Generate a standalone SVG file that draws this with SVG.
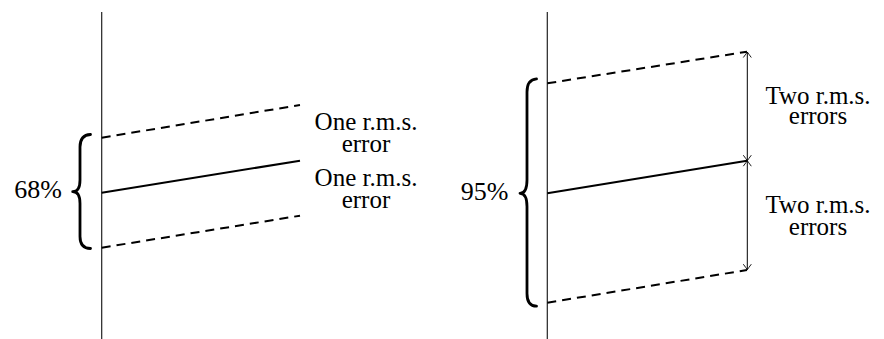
<svg xmlns="http://www.w3.org/2000/svg" width="884" height="339" viewBox="0 0 884 339">
<style>
  text { font-family: "Liberation Serif", "Times New Roman", serif; font-size: 26px; fill: #000; }
  .lbl { font-size: 25px; }
  .axis { stroke: #222; stroke-width: 1.2; fill: none; }
  .solid { stroke: #000; stroke-width: 2; fill: none; }
  .dash { stroke: #000; stroke-width: 2; fill: none; stroke-dasharray: 9 6; }
  .brace { stroke: #000; stroke-width: 2.8; fill: none; stroke-linecap: round; stroke-linejoin: round; }
  .arrow { stroke: #000; stroke-width: 1; fill: none; marker-start: url(#tip); marker-end: url(#tip); }
</style>
<defs>
  <marker id="tip" viewBox="-7 -5 9 10" refX="0" refY="0" markerWidth="9" markerHeight="10" markerUnits="userSpaceOnUse" orient="auto-start-reverse">
    <path d="M -5.5 -4 Q -1.5 -1 0 0 Q -1.5 1 -5.5 4" stroke="#000" stroke-width="0.9" fill="none"/>
  </marker>
</defs>
<rect width="884" height="339" fill="#fff"/>

<g id="left-panel">
  <line class="axis" x1="101.7" y1="12" x2="101.7" y2="339"/>
  <path class="brace" d="M 90.5 134.5 Q 80 135 80 147 L 80 180 Q 80 191.7 72.7 191.7 Q 80 191.7 80 203.5 L 80 236.5 Q 80 248.5 90.5 248.5"/>
  <text x="62" y="198.3" text-anchor="end">68%</text>
</g>

<g id="right-panel">
  <line class="axis" x1="547.3" y1="12" x2="547.3" y2="339"/>
  <path class="brace" d="M 536.5 78.8 Q 527 79.5 527 92 L 527 180 Q 527 193.3 520 193.3 Q 527 193.3 527 206.5 L 527 293.5 Q 527 306.2 536.5 306.2"/>
  <text x="508.3" y="200" text-anchor="end">95%</text>
</g>

<g id="connectors">
  <line class="dash" x1="101.7" y1="137.7" x2="300" y2="105"/>
  <line class="solid" x1="101.7" y1="192.7" x2="300" y2="160.7"/>
  <line class="dash" x1="101.7" y1="247.7" x2="300" y2="215.7"/>
  <line class="dash" x1="547.3" y1="83.3" x2="747" y2="51.7"/>
  <line class="solid" x1="547.3" y1="193.3" x2="747" y2="160.7"/>
  <line class="dash" x1="547.3" y1="302.7" x2="747" y2="270"/>
  <line class="arrow" x1="747.3" y1="52" x2="747.3" y2="160.7"/>
  <line class="arrow" x1="747.3" y1="160.7" x2="747.3" y2="269.7"/>
</g>

<g id="label-left-upper">
  <text class="lbl" x="366" y="130" text-anchor="middle">One r.m.s.</text>
  <text class="lbl" x="366" y="152" text-anchor="middle">error</text>
</g>
<g id="label-left-lower">
  <text class="lbl" x="366" y="186" text-anchor="middle">One r.m.s.</text>
  <text class="lbl" x="366" y="208" text-anchor="middle">error</text>
</g>
<g id="label-right-upper">
  <text class="lbl" x="818" y="103.5" text-anchor="middle">Two r.m.s.</text>
  <text class="lbl" x="818" y="124" text-anchor="middle">errors</text>
</g>
<g id="label-right-lower">
  <text class="lbl" x="818" y="213" text-anchor="middle">Two r.m.s.</text>
  <text class="lbl" x="818" y="234.5" text-anchor="middle">errors</text>
</g>
</svg>
